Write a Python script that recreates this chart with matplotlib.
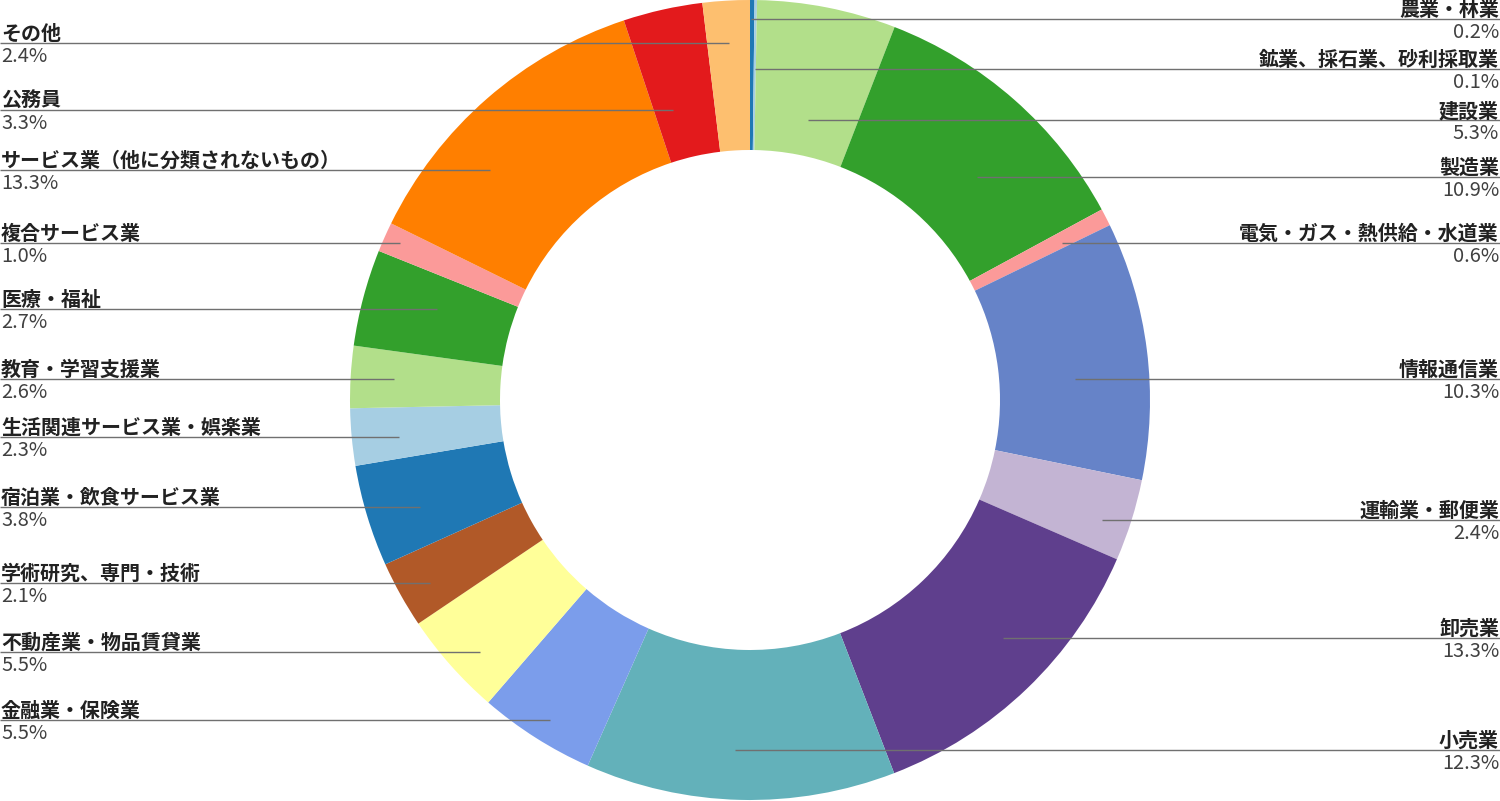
import matplotlib.pyplot as plt

plt.rcParams['font.family'] = ['Noto Sans CJK JP', 'DejaVu Sans']

# 業種（時計回り、真上から）
industries = ['農業・林業', '鉱業、採石業、砂利採取業', '建設業', '製造業',
              '電気・ガス・熱供給・水道業', '情報通信業', '運輸業・郵便業', '卸売業',
              '小売業', '金融業・保険業', '不動産業・物品賃貸業', '学術研究、専門・技術',
              '宿泊業・飲食サービス業', '生活関連サービス業・娯楽業', '教育・学習支援業',
              '医療・福祉', '複合サービス業', 'サービス業（他に分類されないもの）',
              '公務員', 'その他']
# 扇形の大きさ
slice_values = [0.18, 0.1, 5.6, 11.2, 0.7, 10.4, 3.3, 12.6, 12.5, 4.7,
                4.2, 2.7, 4.1, 2.3, 2.5, 3.9, 1.2, 12.6, 3.2, 1.9]
# ラベルの割合表示
pct_labels = ['0.2%', '0.1%', '5.3%', '10.9%', '0.6%', '10.3%', '2.4%', '13.3%',
              '12.3%', '5.5%', '5.5%', '2.1%', '3.8%', '2.3%', '2.6%', '2.7%',
              '1.0%', '13.3%', '3.3%', '2.4%']
colors = ['#1F78B4', '#A6CEE3', '#B2DF8A', '#33A02C', '#FB9A99', '#6683C8',
          '#C3B4D3', '#5F3F8D', '#63B1BA', '#7B9DEB', '#FFFF99', '#B15928',
          '#1F78B4', '#A6CEE3', '#B2DF8A', '#33A02C', '#FB9A99', '#FF7F00',
          '#E31A1C', '#FDBF6F']

# レイアウト（ピクセル座標）: ラベル線の y、線の内側端の x、左右
W, H = 1500, 801
label_y = [19, 69, 120, 177, 243, 379, 520, 638, 750,
           720, 652, 583, 507, 437, 379, 309, 243, 170, 110, 43]
line_end_x = [751, 755, 808, 977, 1062, 1075, 1102, 1003, 735,
              550, 480, 430, 420, 399, 394, 437, 400, 490, 673, 729]
side = ['R'] * 9 + ['L'] * 11

fig = plt.figure(figsize=(W / 100, H / 100), dpi=100)
ax = fig.add_axes([0, 0, 1, 1])
ax.pie(slice_values, colors=colors, startangle=90, counterclock=False,
       radius=400, center=(750, H - 400),
       wedgeprops=dict(width=150, linewidth=0))
ax.set_xlim(0, W)
ax.set_ylim(0, H)
ax.set_aspect('equal')
ax.axis('off')

for name, pct, ly, lx, s in zip(industries, pct_labels, label_y, line_end_x, side):
    y = H - ly
    if s == 'R':
        ax.plot([lx, W], [y, y], color='#707070', lw=1.0, solid_capstyle='butt')
        ax.text(W - 1, y - 1, name, ha='right', va='bottom', fontsize=14.4,
                fontweight='bold', color='#222222')
        ax.text(W - 1, y - 3, pct, ha='right', va='top', fontsize=14.4,
                color='#404040')
    else:
        ax.plot([0, lx], [y, y], color='#707070', lw=1.0, solid_capstyle='butt')
        ax.text(1, y - 1, name, ha='left', va='bottom', fontsize=14.4,
                fontweight='bold', color='#222222')
        ax.text(1, y - 3, pct, ha='left', va='top', fontsize=14.4,
                color='#404040')

fig.savefig('out.png', dpi=100)
